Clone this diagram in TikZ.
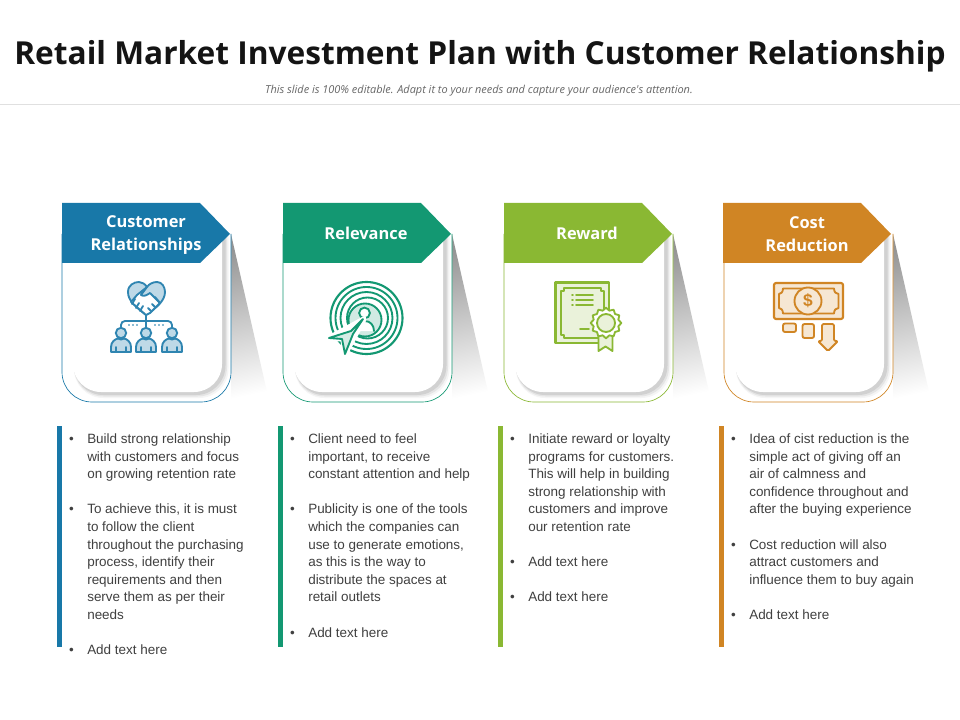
\documentclass[tikz,border=0pt]{standalone}
\usepackage{fontspec}
\setmainfont{Liberation Sans}
\newfontfamily\headfont{Open Sans}
\usetikzlibrary{shapes.geometric}
\definecolor{cblue}{HTML}{1878A8}
\definecolor{cgreen}{HTML}{139872}
\definecolor{clime}{HTML}{8AB833}
\definecolor{corange}{HTML}{D08524}
\definecolor{bodytext}{HTML}{404040}
\tikzset{
  cardline/.style={line width=0.5pt},
  headtext/.style={font=\headfont\bfseries\fontsize{12.3}{17.2}\selectfont,text=white,align=center},
  bodynode/.style={anchor=north west,inner sep=0pt,align=left,text=bodytext,font=\fontsize{10.1}{13.2}\selectfont},
  ico/.style={line width=1.4pt,line join=round,line cap=round},
}
\newcommand{\bul}{\leavevmode\llap{•\hspace{10pt}}}
\newcommand{\rimshape}[5]{(#1,#2) [rounded corners=#5] -- (#1,#4) -- (#3,#4) [sharp corners] -- (#3,#2) -- cycle}
\begin{document}
\begin{tikzpicture}[x=0.75pt,y=-0.75pt]
\useasboundingbox (0,0) rectangle (960,720);
\fill[white] (0,0) rectangle (960,720);
\node[font=\headfont\bfseries\fontsize{23.75}{28}\selectfont,text=black!92] (title) at (480,56.5) {Retail Market Investment Plan with Customer Relationship};
\node[font=\headfont\itshape\fontsize{8.2}{10}\selectfont,text=black!60] (subtitle) at (479,91) {This slide is 100\% editable. Adapt it to your needs and capture your audience's attention.};
\draw[black!12,line width=0.6pt] (0,104.5) -- (960,104.5);

\foreach \ox/\col in {62/cblue,283/cgreen,504/clime,724/corange}{
 \begin{scope}[shift={(\ox,0)}]
  \shade[top color=black!42,bottom color=white,shading angle=12,draw=none] (169,234) -- (208,405) -- (169,405) -- cycle;
  \filldraw[fill=white,draw=\col,cardline] (0,234) [rounded corners=22.5pt] -- (0,402) -- (169,402) [sharp corners] -- (169,234);
  \fill[black!4] \rimshape{12}{236}{166.5}{398}{22pt};
  \fill[black!10] \rimshape{12}{236}{165}{396.5}{22pt};
  \fill[black!18] \rimshape{12}{236}{163.5}{395}{22pt};
  \fill[white] \rimshape{11}{236}{160}{392}{21pt};
 \end{scope}
}
% banners
\foreach \ox/\col in {62/cblue,283/cgreen,504/clime,723/corange}{
  \fill[\col] (\ox,203) -- ++(138,0) -- ++(30,31) -- ++(-30,29) -- ++(-138,0) -- cycle;
}
\node[headtext] (h1) at (146,235.5) {Customer\\Relationships};
\node[headtext] (h2) at (366,233) {Relevance};
\node[headtext] (h3) at (587,233) {Reward};
\node[headtext] (h4) at (807,234) {Cost\\Reduction};

% text bars
\fill[cblue] (57,426) rectangle (61.5,647);
\fill[cgreen] (278,426) rectangle (282.5,647);
\fill[clime] (498,426) rectangle (502.5,647);
\fill[corange] (719,426) rectangle (723.5,647);

\node[bodynode] (t1) at (87,433.5) {\bul Build strong relationship\\with customers and focus\\on growing retention rate\\[13.2pt]
\bul To achieve this, it is must\\to follow the client\\throughout the purchasing\\process, identify their\\requirements and then\\serve them as per their\\needs\\[13.2pt]
\bul Add text here};
\node[bodynode] (t2) at (308,433.5) {\bul Client need to feel\\important, to receive\\constant attention and help\\[13.2pt]
\bul Publicity is one of the tools\\which the companies can\\use to generate emotions,\\as this is the way to\\distribute the spaces at\\retail outlets\\[13.2pt]
\bul Add text here};
\node[bodynode] (t3) at (528,433.5) {\bul Initiate reward or loyalty\\programs for customers.\\This will help in building\\strong relationship with\\customers and improve\\our retention rate\\[13.2pt]
\bul Add text here\\[13.2pt]
\bul Add text here};
\node[bodynode] (t4) at (749,433.5) {\bul Idea of cist reduction is the\\simple act of giving off an\\air of calmness and\\confidence throughout and\\after the buying experience\\[13.2pt]
\bul Cost reduction will also\\attract customers and\\influence them to buy again\\[13.2pt]
\bul Add text here};

% ---- icon 1
\begin{scope}[ico,draw=cblue!90,fill=cblue!28]
 \filldraw (146,315) .. controls (136,307) and (128,301) .. (128,292) .. controls (128,285) and (134,282) .. (139,282) .. controls (142,282) and (145,284) .. (147,287) .. controls (149,284) and (153,282) .. (157,282) .. controls (162,282) and (165,287) .. (165,292) .. controls (165,301) and (156,308) .. (146,315) -- cycle;
 \filldraw[fill=white] (147,287) -- (141,295) .. controls (144,297) and (147,295) .. (150,293) -- (160,303) -- (150,313) -- (146,315) -- (131,302) -- (137,295) -- cycle;
 \draw (135,299) -- (132,304) (139,303) -- (136,308) (143,306) -- (140,311);
 \draw (155,297) -- (160,303) (152,304) -- (155,307) (148,308) -- (151,311);
 \draw (146,315) -- (146,328);
 \draw[fill=none,rounded corners=3pt] (121,328) -- (121,321) -- (172,321) -- (172,328);
 \foreach \x in {121,146,172}{
  \filldraw (\x,333) circle (5.2);
  \filldraw (\x-10,352) -- (\x-10,347) .. controls (\x-10,342) and (\x-6,339) .. (\x-3,338.5) .. controls (\x-1,340) and (\x+1,340) .. (\x+3,338.5) .. controls (\x+6,339) and (\x+10,342) .. (\x+10,347) -- (\x+10,352) -- cycle;
  \draw (\x-5,347) -- (\x-5,352) (\x+5,347) -- (\x+5,352);
 }
 \foreach \x in {129,133,137,155,159,163}{\fill[cblue] (\x,325) circle (0.9);}
\end{scope}

% ---- icon 2
\begin{scope}[ico,draw=cgreen]
 \draw[line width=1.6pt] (366.5,318) circle (36);
 \draw (366.5,318) circle (31);
 \draw (366.5,318) circle (26);
 \draw (367.5,318) circle (20.5);
 \filldraw[fill=cgreen!20] (365,320) circle (16.5);
 \filldraw[fill=white] (364.5,313) circle (5.4);
 \draw[fill=white] (355,331) .. controls (355,323) and (361,321) .. (365,321) .. controls (370,321) and (374,325) .. (374,331);
 \draw[white,line width=4pt,fill=white] (329,338) -- (364,319) -- (345,354) -- (343,339) -- cycle;
 \filldraw[fill=cgreen!18,line width=1.4pt] (329,338) -- (351,331) -- (363,319) -- (353,334) -- (345,354) -- (342,339) -- cycle;
\end{scope}

% ---- icon 3
\begin{scope}[ico,draw=clime]
 \filldraw[fill=clime!18,line width=1.7pt] (555.5,282.5) rectangle (609,343);
 \draw (564,288) -- (601,288) -- (601,291) -- (604,291) -- (604,335) -- (601,335) -- (601,338) -- (564,338) -- (564,335) -- (561,335) -- (561,291) -- (564,291) -- cycle;
 \draw (576,295) -- (593,295) (576,300) -- (593,300) (576,305) -- (593,305);
 \draw (572,295) -- (573,295) (572,300) -- (573,300) (572,305) -- (573,305);
 \draw (580,329) -- (589,329);
 \filldraw[fill=clime!18] (598.5,333) -- (598.5,351) -- (605.5,346.5) -- (612.5,351) -- (612.5,333) -- cycle;
 \node[star,star points=12,star point ratio=1.2,minimum size=23pt,inner sep=0pt,draw=clime,fill=white,line width=1.4pt] (seal) at (606,323) {};
 \draw[fill=clime!18] (606,323) circle (9);
\end{scope}

% ---- icon 4
\begin{scope}[ico,draw=corange]
 \filldraw[fill=corange!20,rounded corners=1.5pt,line width=1.6pt] (774,283) rectangle (843,319);
 \draw (783,288.5) -- (834,288.5) .. controls (834,292) and (836,294) .. (838.5,294) -- (838.5,308) .. controls (836,308) and (834,310) .. (834,313.5) -- (783,313.5) .. controls (783,310) and (781,308) .. (779,308) -- (779,294) .. controls (781,294) and (783,292) .. (783,288.5) -- cycle;
 \filldraw[fill=corange!20] (808,301) circle (13.5);
 \node[text=corange,font=\bfseries\fontsize{13}{13}\selectfont,inner sep=0pt] (dollar) at (808,301) {\$};
 \filldraw[fill=corange!20,rounded corners=1.5pt] (783,323.5) rectangle (796,332);
 \filldraw[fill=corange!20,rounded corners=1.5pt] (802.5,324) rectangle (814,338);
 \filldraw[fill=corange!20,rounded corners=1pt] (822,324) -- (834,324) -- (834,341) -- (838,341) -- (828,351) -- (818,341) -- (822,341) -- cycle;
\end{scope}
\end{tikzpicture}
\end{document}
